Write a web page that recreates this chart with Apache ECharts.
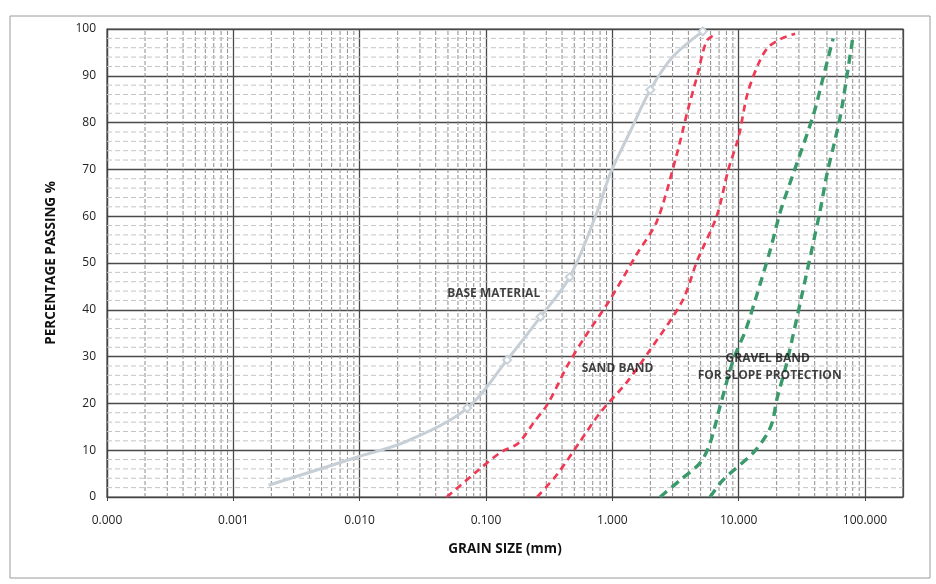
<!DOCTYPE html>
<html>
<head>
<meta charset="utf-8">
<script src="https://cdn.jsdelivr.net/npm/echarts@6/dist/echarts.min.js"></script>
<style>
html,body{margin:0;padding:0;background:#fff;}
#chart{width:936px;height:584px;}
</style>
</head>
<body>
<div id="chart"></div>
<script>
// ---- data (grain size mm, % passing) ----
const baseMaterial = [[0.0019,2.5],[0.0095,8.5],[0.024,12],[0.071,19],[0.147,29.3],[0.27,38.5],[0.46,47],[0.76,61],[0.96,69],[1.38,78],[2.0,87],[3.0,94],[5.2,99.5]];
const baseMarkerIdx = [3,4,5,6,10,12];
const sandFine = [[0.049,0],[0.085,5.5],[0.13,9.5],[0.18,11.5],[0.24,16],[0.31,20],[0.44,28],[0.6,34],[0.95,42],[1.57,52],[2.26,59],[3.26,73.5],[3.9,82],[4.7,90],[5.6,97.5],[6.7,99]];
const sandCoarse = [[0.254,0],[0.37,5],[0.56,12],[0.8,18],[1.3,24.5],[2.0,31.5],[3.6,42],[4.7,50.5],[6.7,60],[8.3,70],[10,77],[11.7,86],[14.2,92.3],[17,96],[22,98],[28,99]];
const gravelFine = [[2.39,0],[3.44,3.6],[4.96,7.3],[5.94,11.5],[7.1,19.2],[9.06,29.3],[11.3,35.5],[13.5,42],[17.8,52.8],[21.4,61],[27,69],[39,81.6],[46.5,89.5],[56,98]];
const gravelCoarse = [[5.94,0],[7.5,3.6],[13,9.4],[17,13.7],[18.7,16.5],[20,20.7],[24,28.6],[31,42],[44,61],[50,69],[56,74.6],[64,81.6],[72,90],[80,98]];

const xMin = 0.0001, xMax = 200;
const yTickStep = 10, yMinorStep = 2;
const labels = [
  {text:'BASE MATERIAL', at:[0.115, 43.5]},
  {text:'SAND BAND', at:[1.1, 27.5]},
  {text:'GRAVEL BAND', at:[17, 29.5]},
  {text:'FOR SLOPE PROTECTION', at:[17.6, 26]}
];

// minor grid values (log paper)
const minorX = [];
for (let e = -4; e <= 2; e++) {
  for (let k = 2; k <= 9; k++) {
    const v = +(k * Math.pow(10, e)).toPrecision(3);
    if (v < xMax) minorX.push(v);
  }
}
const minorY = [];
for (let v = yMinorStep; v < 100; v += yMinorStep) {
  if (v % yTickStep !== 0) minorY.push(v);
}

const chart = echarts.init(document.getElementById('chart'), null, {renderer:'canvas'});
const txtFont = '"Open Sans", "Noto Sans", sans-serif';

const gridSeries = [];
minorX.forEach(v => gridSeries.push({
  type: 'line', data: [[v, 0], [v, 100]], silent: true, z: 1, symbol: 'none',
  lineStyle: {color: '#8c8c8c', type: [4,2], width: 1}
}));
minorY.forEach(v => gridSeries.push({
  type: 'line', data: [[xMin, v], [xMax, v]], silent: true, z: 1, symbol: 'none',
  lineStyle: {color: '#c4c4c4', type: [5,3], width: 1}
}));

const option = {
  animation: false,
  backgroundColor: '#fff',
  graphic: [{
    type: 'rect', shape: {x: 10, y: 16, width: 920, height: 562},
    style: {fill: 'none', stroke: '#9a9a9a', lineWidth: 1}, silent: true, z: -10
  }],
  grid: {left: 107, right: 33, top: 29, bottom: 87, show: true, borderColor: '#555', borderWidth: 1.2},
  xAxis: {
    type: 'log', logBase: 10, min: xMin, max: xMax,
    name: 'GRAIN SIZE (mm)', nameLocation: 'middle', nameGap: 45,
    nameTextStyle: {fontFamily: txtFont, fontWeight: 'bold', fontSize: 13.5, color: '#111'},
    axisLine: {show: true, lineStyle: {color: '#444', width: 1.2}},
    axisTick: {show: true, length: 4, lineStyle: {color: '#444'}},
    axisLabel: {margin: 18, fontSize: 12, color: '#222', fontFamily: '"Open Sans", sans-serif',
      showMaxLabel: false,
      formatter: v => v.toFixed(3)},
    splitLine: {show: true, lineStyle: {color: '#4a4a4a', width: 1.3}}
  },
  yAxis: {
    type: 'value', min: 0, max: 100, interval: yTickStep,
    name: 'PERCENTAGE PASSING %', nameLocation: 'middle', nameGap: 49,
    nameTextStyle: {fontFamily: txtFont, fontWeight: 'bold', fontSize: 13.5, color: '#111'},
    axisLine: {show: true, lineStyle: {color: '#444', width: 1.2}},
    axisTick: {show: false},
    axisLabel: {margin: 11, fontSize: 12, color: '#222', fontFamily: '"Open Sans", sans-serif'},
    splitLine: {show: true, lineStyle: {color: '#4a4a4a', width: 1.3}}
  },
  series: gridSeries.concat([
    {
      name: 'BASE MATERIAL', type: 'line', data: baseMaterial, smooth: 0.35, z: 3,
      symbol: 'emptyDiamond',
      symbolSize: (val, p) => baseMarkerIdx.indexOf(p.dataIndex) >= 0 ? 8 : 0,
      itemStyle: {color: '#c9d1d9', borderWidth: 1.2},
      lineStyle: {color: '#c6ced6', width: 3}
    },
    {
      name: 'SAND BAND FINE', type: 'line', data: sandFine, smooth: 0.3, showSymbol: false, z: 3,
      lineStyle: {color: '#ef3a55', width: 2.7, type: [7,5]}
    },
    {
      name: 'SAND BAND COARSE', type: 'line', data: sandCoarse, smooth: 0.3, showSymbol: false, z: 3,
      lineStyle: {color: '#ef3a55', width: 2.7, type: [7,5]}
    },
    {
      name: 'GRAVEL BAND FINE', type: 'line', data: gravelFine, smooth: 0.3, showSymbol: false, z: 3,
      lineStyle: {color: '#3a9a6c', width: 3.4, type: [9,6]}
    },
    {
      name: 'GRAVEL BAND COARSE', type: 'line', data: gravelCoarse, smooth: 0.3, showSymbol: false, z: 3,
      lineStyle: {color: '#3a9a6c', width: 3.4, type: [9,6]}
    },
    {
      name: 'labels', type: 'scatter', z: 5, silent: true, symbolSize: 0,
      data: labels.map(l => ({value: l.at, name: l.text})),
      label: {show: true, position: 'inside', formatter: p => p.name,
        fontFamily: txtFont, fontWeight: 'bold', fontSize: 12, color: '#111'}
    }
  ])
};
chart.setOption(option);
</script>
</body>
</html>
